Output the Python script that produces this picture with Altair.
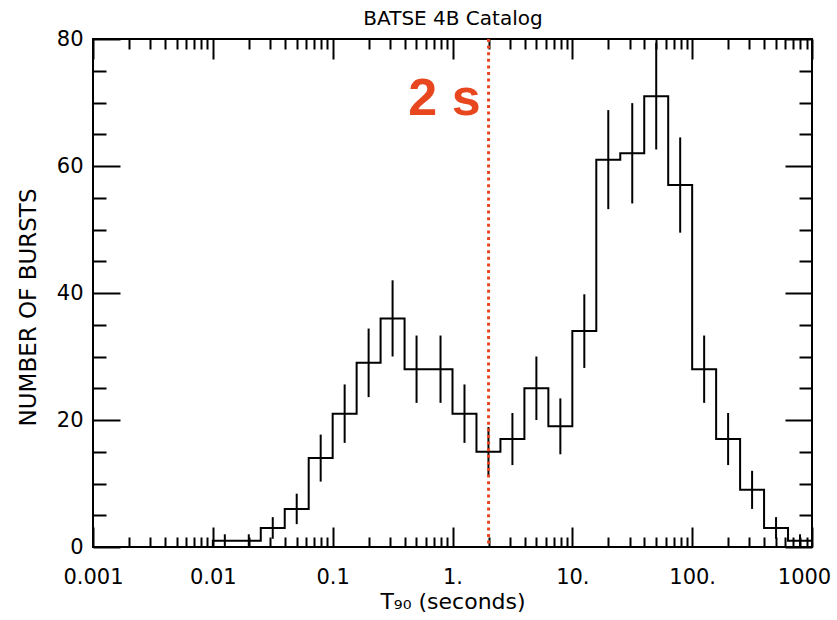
import altair as alt
import pandas as pd

# ---- data ----
log_lo = [-3.0, -2.8, -2.6, -2.4, -2.2, -2.0, -1.8, -1.6, -1.4, -1.2,
          -1.0, -0.8, -0.6, -0.4, -0.2, 0.0, 0.2, 0.4, 0.6, 0.8,
          1.0, 1.2, 1.4, 1.6, 1.8, 2.0, 2.2, 2.4, 2.6, 2.8]
log_end = 3.0
counts = [0, 0, 0, 0, 0, 1, 1, 3, 6, 14,
          21, 29, 36, 28, 28, 21, 15, 17, 25, 19,
          34, 61, 62, 71, 57, 28, 17, 9, 3, 1]
errors = [0, 0, 0, 0, 0, 1.0, 1.0, 1.7, 2.4, 3.7,
          4.6, 5.4, 6.0, 5.3, 5.3, 4.6, 3.9, 4.1, 5.0, 4.4,
          5.8, 7.8, 7.9, 8.4, 7.5, 5.3, 4.1, 3.0, 1.7, 1.0]
split_time = [2.0]
split_label = ["2 s"]
split_label_y = [68]
x_major = [0.001, 0.01, 0.1, 1.0, 10.0, 100.0, 1000.0]
x_labels = ["0.001", "0.01", "0.1", "1.", "10.", "100.", "1000"]
y_labels = [0, 20, 40, 60, 80]

x_ticks = x_major + [m * 10.0 ** d for d in range(-3, 3) for m in range(2, 10)]
y_ticks = list(range(0, 81, 5))

# ---- tables ----
step_df = pd.DataFrame({
    "t": [10 ** v for v in log_lo] + [10 ** log_end],
    "n": counts + [counts[-1]],
})
err_df = pd.DataFrame({
    "c": [10 ** (v + 0.1) for v in log_lo],
    "lo": [n - e for n, e in zip(counts, errors)],
    "hi": [n + e for n, e in zip(counts, errors)],
    "e": errors,
})
err_df = err_df[err_df["e"] > 0]

RED = "#e8461e"
FONT = "DejaVu Sans"
W, H = 719, 508

x_scale = alt.Scale(type="log", domain=[0.001, 1000])
y_scale = alt.Scale(domain=[0, 80], nice=False)

lab_expr = "[" + ",".join("'%s'" % s for s in x_labels) + "][round(log(datum.value)/LN10)+3]"


def tick_axis_x(orient, offset, **kw):
    return alt.Axis(
        orient=orient, offset=offset, values=x_ticks, labels=False, domain=False,
        grid=False, ticks=True, tickColor="black", tickWidth=2,
        tickSize={"condition": {"test": "abs(log(datum.value)/LN10 - round(log(datum.value)/LN10)) < 0.0001",
                                "value": 20}, "value": 10},
        **kw)


def tick_axis_y(orient, offset, **kw):
    return alt.Axis(
        orient=orient, offset=offset, values=y_ticks, labels=False, domain=False,
        grid=False, ticks=True, tickColor="black", tickWidth=2,
        tickSize={"condition": {"test": "datum.value % 20 == 0", "value": 27}, "value": 13},
        **kw)


line = alt.Chart(step_df).mark_line(
    interpolate="step-after", color="black", strokeWidth=2, clip=True
).encode(
    x=alt.X("t:Q", scale=x_scale, axis=alt.Axis(
        orient="bottom", values=x_major, labelExpr=lab_expr, ticks=False, tickSize=0,
        domain=False, grid=False, labelPadding=19, labelFont=FONT, labelFontSize=21,
        labelColor="black", labelFlush=False, labelOverlap=False, labelBound=False,
        labelOffset={"condition": {"test": "datum.value > 500", "value": -8}, "value": 0},
        title="T₉₀ (seconds)", titleFont=FONT, titleFontSize=22, titleFontWeight="normal",
        titleColor="black", titleX=W / 2, titleY=61, titleBaseline="alphabetic",
        titleAlign="center")),
    y=alt.Y("n:Q", scale=y_scale, axis=alt.Axis(
        orient="left", values=y_labels, format="d", ticks=False, tickSize=0,
        domain=False, grid=False, labelPadding=10, labelFont=FONT, labelFontSize=21,
        labelColor="black", labelFlush=False, labelOverlap=False, labelBound=False,
        title="NUMBER OF BURSTS", titleFont=FONT, titleFontSize=23, titleFontWeight="normal",
        titleColor="black", titleX=-58, titleY=268, titleAngle=-90,
        titleBaseline="alphabetic", titleAlign="center")),
)

err = alt.Chart(err_df).mark_rule(color="black", strokeWidth=2, clip=True).encode(
    x=alt.X("c:Q", scale=x_scale, axis=tick_axis_x("top", -H, title=None)),
    y=alt.Y("lo:Q", scale=y_scale, axis=tick_axis_y("right", -W, title=None)),
    y2="hi:Q",
)

vline = alt.Chart(pd.DataFrame({"t": split_time})).mark_rule(
    color=RED, strokeWidth=3, strokeDash=[3, 3.6]
).encode(
    x=alt.X("t:Q", scale=x_scale, axis=tick_axis_x(
        "bottom", -H, title="BATSE 4B Catalog", titleFont=FONT, titleFontSize=20,
        titleFontWeight="normal", titleColor="black", titleX=W / 2, titleY=-15,
        titleBaseline="alphabetic", titleAlign="center")),
)

label = alt.Chart(pd.DataFrame({"t": split_time, "n": split_label_y, "txt": split_label})).mark_text(
    align="right", baseline="alphabetic", dx=-8, fontSize=52, fontWeight="bold",
    font="Liberation Sans", color=RED
).encode(
    x=alt.X("t:Q", scale=x_scale, axis=None),
    y=alt.Y("n:Q", scale=y_scale, axis=tick_axis_y("left", -W, title=None)),
    text="txt:N",
)

chart = alt.layer(line, err, vline, label).resolve_axis(
    x="independent", y="independent"
).properties(
    width=W, height=H,
    autosize=alt.AutoSizeParams(type="none"),
    padding={"left": 93, "top": 39, "right": 25, "bottom": 73},
    background="white",
).configure_view(stroke="black", strokeWidth=2)

chart.save("out.html", embed_options={"renderer": "svg", "actions": False})
